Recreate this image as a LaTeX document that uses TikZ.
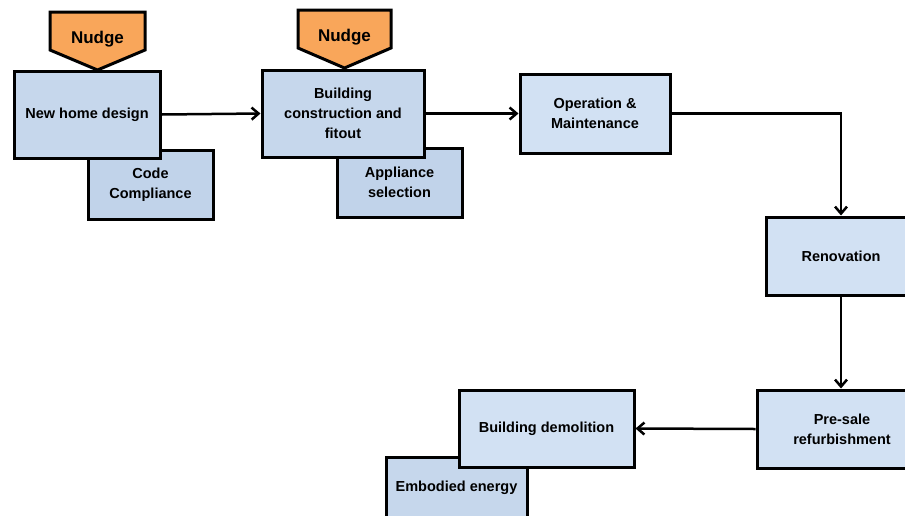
\documentclass[tikz,border=0pt]{standalone}
\usepackage{fontspec}
\setmainfont{Liberation Sans}
\usetikzlibrary{arrows.meta,shadows}
\definecolor{boxA}{HTML}{C6D7EC}
\definecolor{boxB}{HTML}{D2E1F3}
\definecolor{boxC}{HTML}{C1D3EA}
\definecolor{nudgeC}{HTML}{F9A65A}
\begin{document}
\begin{tikzpicture}[x=1pt,y=-1pt,
  box/.style={draw=black, line width=3pt, rectangle, align=center, inner sep=0pt,
    font=\bfseries\fontsize{14.5}{20}\selectfont,
    drop shadow={shadow xshift=1.5pt, shadow yshift=-1.5pt, opacity=0.25}},
  nudgetxt/.style={font=\bfseries\fontsize{17}{20}\selectfont, inner sep=0pt},
  nudgeshape/.style={draw=black, line width=3pt, fill=nudgeC, line join=miter},
  conn/.style={line width=2.5pt, -{Straight Barb[length=7pt,width=12pt,line width=2.5pt]}}]
\useasboundingbox (0,0) rectangle (905,515);
\clip (0,0) rectangle (905,515);
% nudges
\draw[nudgeshape] (50,12) -- (145,12) -- (145,50) -- (97.5,70) -- (50,50) -- cycle;
\node[nudgetxt] (n1) at (97.5,39) {Nudge};
\draw[nudgeshape] (298,10) -- (391,10) -- (391,48) -- (344.5,68) -- (298,48) -- cycle;
\node[nudgetxt] (n2) at (344.5,37) {Nudge};
% secondary boxes (behind)
\node[box, fill=boxC, minimum width=125pt, minimum height=69pt] (cc) at (150.5,184.5) {Code\\Compliance};
\node[box, fill=boxC, minimum width=125pt, minimum height=69pt] (as) at (399.5,182.5) {Appliance\\selection};
\node[box, fill=boxA, minimum width=141pt, minimum height=62pt] (ee) at (456.5,488) {Embodied energy};
% main boxes
\node[box, fill=boxA, minimum width=146pt, minimum height=87pt] (nhd) at (87,114.5) {New home design};
\node[box, fill=boxA, minimum width=162pt, minimum height=87pt] (bc) at (343,113.5) {Building\\construction and\\fitout};
\node[box, fill=boxB, minimum width=150pt, minimum height=79pt] (op) at (595,113.5) {Operation \&\\Maintenance};
\node[box, fill=boxB, minimum width=150pt, minimum height=78pt] (ren) at (841,256) {Renovation};
\node[box, fill=boxB, minimum width=170pt, minimum height=78pt] (ps) at (842,429) {Pre-sale\\refurbishment};
\node[box, fill=boxB, minimum width=175pt, minimum height=77pt] (bd) at (546.5,428.5) {Building demolition};
% connectors
\draw[conn] (nhd.east) -- (bc.west);
\draw[conn] (bc.east) -- (op.west);
\draw[conn] (op.east) -| (ren.north);
\draw[conn] (ren.south) -- (ren.south |- ps.north);
\draw[conn] (ps.west) -- (bd.east);
\end{tikzpicture}
\end{document}
